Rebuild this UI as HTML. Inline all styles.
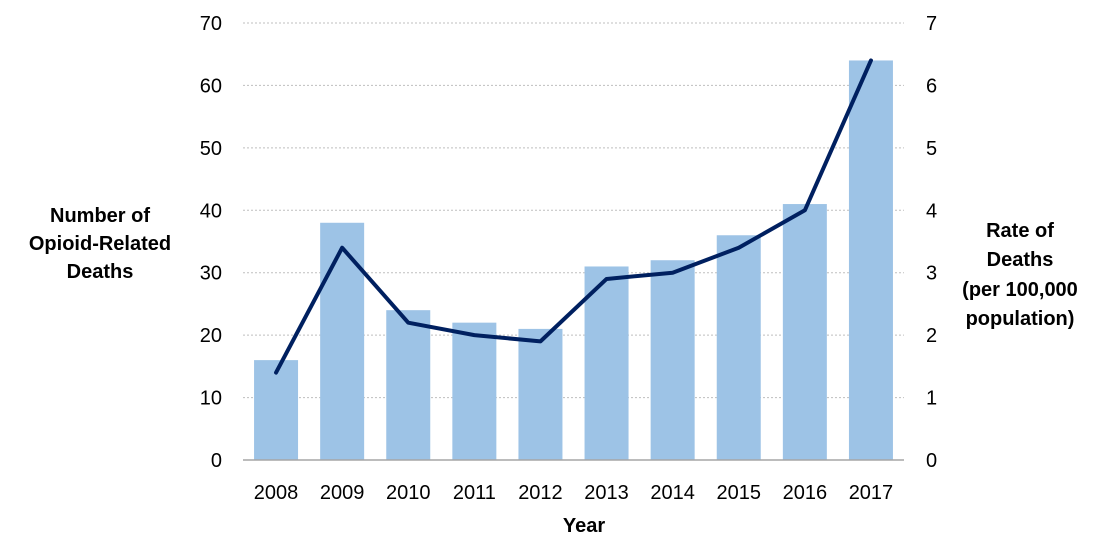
<!DOCTYPE html>
<html><head><meta charset="utf-8"><style>
body{margin:0;background:#fff;}
svg text{font-family:"Liberation Sans",Arial,sans-serif;fill:#000;}
</style></head><body>
<svg width="1099" height="551" viewBox="0 0 1099 551">
<g id="grid"></g>
<g id="bars"></g>
<g id="line"></g>
<g id="axes"></g>
<g font-weight="bold" font-size="20" text-anchor="middle">
<text x="100" y="222">Number of</text><text x="100" y="250">Opioid-Related</text><text x="100" y="278">Deaths</text></g>
<g font-weight="bold" font-size="20" text-anchor="middle">
<text x="1020" y="237">Rate of</text><text x="1020" y="266">Deaths</text><text x="1020" y="296">(per 100,000</text><text x="1020" y="325">population)</text></g>
<text x="584" y="532" font-weight="bold" font-size="20" text-anchor="middle">Year</text>
</svg>
<script>
const categories=["2008","2009","2010","2011","2012","2013","2014","2015","2016","2017"];
const deaths=[16,38,24,22,21,31,32,36,41,64];
const rates=[1.4,3.4,2.2,2.0,1.9,2.9,3.0,3.4,4.0,6.4];
const leftTicks=[0,10,20,30,40,50,60,70];
const rightTicks=[0,1,2,3,4,5,6,7];
const NS="http://www.w3.org/2000/svg";
const x0=243,x1=904,yBase=460,yTop=23;
const band=(x1-x0)/categories.length;
const xC=i=>x0+band*(i+0.5);
const yL=v=>yBase-(v/70)*(yBase-yTop);
const yR=v=>yBase-(v/7)*(yBase-yTop);
function mk(tag,attrs,parent){const e=document.createElementNS(NS,tag);for(const k in attrs)e.setAttribute(k,attrs[k]);parent.appendChild(e);return e;}
const grid=document.getElementById('grid'),bars=document.getElementById('bars'),line=document.getElementById('line'),axes=document.getElementById('axes');
leftTicks.forEach((t,i)=>{
  if(t>0){const g=mk('line',{x1:x0,x2:x1,y1:yL(t),y2:yL(t),stroke:'#bfbfbf','stroke-width':1,'stroke-dasharray':'2,2'},grid);
  
  }
  const l=mk('text',{x:222,y:yL(t)+7,'font-size':20,'text-anchor':'end'},axes);l.textContent=t;
  
  
});
rightTicks.forEach(t=>{
  const l=mk('text',{x:926,y:yR(t)+7,'font-size':20,'text-anchor':'start'},axes);l.textContent=t;
  
  
});
const bw=44;
deaths.forEach((v,i)=>{
  const r=mk('rect',{x:xC(i)-bw/2,y:yL(v),width:bw,height:yBase-yL(v),fill:'#9dc3e6'},bars);
  
  
});
const ax=mk('line',{x1:x0,x2:x1,y1:yBase,y2:yBase,stroke:'#a6a6a6','stroke-width':1.5},axes);


categories.forEach((c,i)=>{
  const l=mk('text',{x:xC(i),y:499,'font-size':20,'text-anchor':'middle'},axes);l.textContent=c;
  
  
});
const p=mk('polyline',{points:rates.map((v,i)=>xC(i)+','+yR(v)).join(' '),fill:'none',stroke:'#002060','stroke-width':4,'stroke-linejoin':'round','stroke-linecap':'round'},line);


</script>
</body></html>
